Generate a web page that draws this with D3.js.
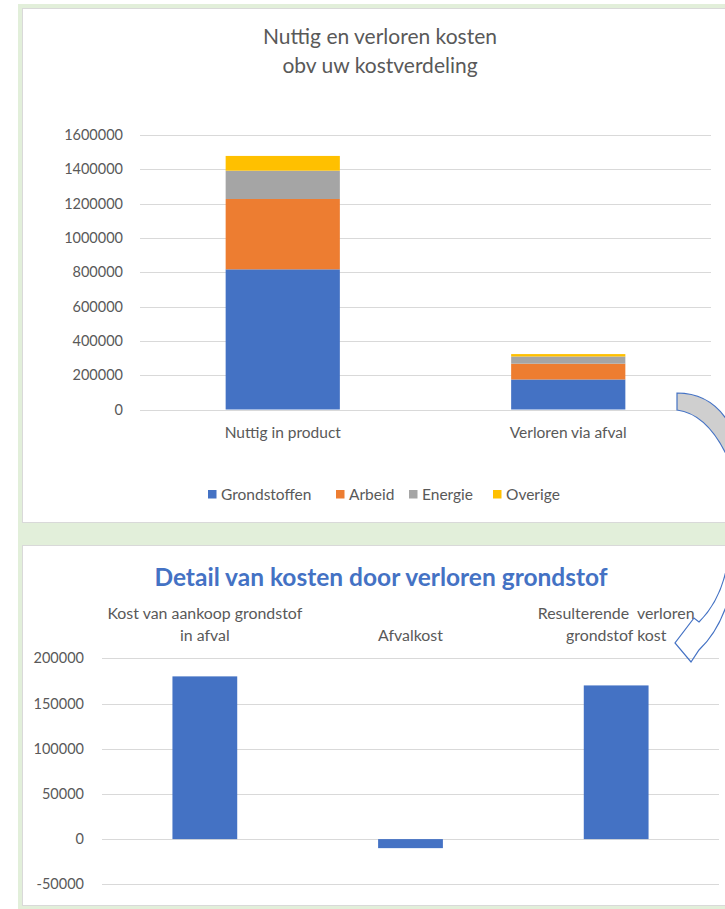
<!DOCTYPE html>
<html>
<head>
<meta charset="utf-8">
<script src="https://cdn.jsdelivr.net/npm/d3@7"></script>
<style>
  html, body { margin: 0; padding: 0; background: #fff; }
  svg text { font-family: Lato, "Liberation Sans", sans-serif; }
</style>
</head>
<body>
<svg id="chart" width="725" height="909"></svg>
<script>
// ---- data: top chart (stacked) ----
const categories = ["Nuttig in product", "Verloren via afval"];
const seriesNames = ["Grondstoffen", "Arbeid", "Energie", "Overige"];
const grondstoffen = [817000, 175000];
const arbeid = [410000, 92000];
const energie = [165000, 42000];
const overige = [86000, 14000];
const topTicks = [0, 200000, 400000, 600000, 800000, 1000000, 1200000, 1400000, 1600000];

// ---- data: bottom chart ----
const detailCategories = [["Kost van aankoop grondstof", "in afval"], ["Afvalkost"], ["Resulterende  verloren", "grondstof kost"]];
const detailValues = [180000, -10000, 170000];
const detailTicks = [-50000, 0, 50000, 100000, 150000, 200000];

const colors = ["#4472C4", "#ED7D31", "#A5A5A5", "#FFC000"];
const textCol = "#595959";
const gridCol = "#d9d9d9";

const svg = d3.select("#chart");

// background + panels
svg.append("rect").attr("x", 18).attr("y", 4).attr("width", 720).attr("height", 910).attr("fill", "#e2efda");
svg.append("rect").attr("x", 22.5).attr("y", 8.5).attr("width", 720).attr("height", 514)
  .attr("fill", "#fff").attr("stroke", gridCol);
svg.append("rect").attr("x", 22.5).attr("y", 545.5).attr("width", 720).attr("height", 360)
  .attr("fill", "#fff").attr("stroke", gridCol);

// -----------------------------
//  TOP CHART
// -----------------------------
const topChart = svg.append("g");

topChart.append("text").attr("x", 380).attr("y", 44).attr("text-anchor", "middle")
  .attr("font-size", 21).attr("fill", textCol).text("Nuttig en verloren kosten");
topChart.append("text").attr("x", 380).attr("y", 73).attr("text-anchor", "middle")
  .attr("font-size", 21).attr("fill", textCol).text("obv uw kostverdeling");

const x1 = d3.scaleBand().domain(categories).range([140, 711]);
const y1 = d3.scaleLinear().domain([0, 1600000]).range([409.5, 135]);

topChart.append("g").selectAll("line").data(topTicks).join("line")
  .attr("x1", 140).attr("x2", 711)
  .attr("y1", d => Math.round(y1(d)) + 0.5).attr("y2", d => Math.round(y1(d)) + 0.5)
  .attr("stroke", gridCol);

topChart.append("g").selectAll("text").data(topTicks).join("text")
  .attr("x", 123).attr("y", d => y1(d)).attr("dy", "0.35em")
  .attr("text-anchor", "end").attr("font-size", 14.5).attr("fill", textCol)
  .text(d => d);

const rows = categories.map((c, i) => ({
  cat: c, Grondstoffen: grondstoffen[i], Arbeid: arbeid[i], Energie: energie[i], Overige: overige[i]
}));
const stacked = d3.stack().keys(seriesNames)(rows);
const barW1 = x1.bandwidth() / 2.5;

topChart.append("g").selectAll("g").data(stacked).join("g")
  .attr("fill", (d, i) => colors[i])
  .selectAll("rect").data(d => d).join("rect")
  .attr("x", d => x1(d.data.cat) + (x1.bandwidth() - barW1) / 2)
  .attr("width", barW1)
  .attr("y", d => y1(d[1]))
  .attr("height", d => y1(d[0]) - y1(d[1]));

topChart.append("g").selectAll("text").data(categories).join("text")
  .attr("x", d => x1(d) + x1.bandwidth() / 2).attr("y", 438)
  .attr("text-anchor", "middle").attr("font-size", 15.5).attr("fill", textCol)
  .text(d => d);

// legend
const legendX = [208, 336, 409, 493];
const legend = topChart.append("g").selectAll("g").data(seriesNames).join("g")
  .attr("transform", (d, i) => `translate(${legendX[i]},490)`);
legend.append("rect").attr("width", 8.5).attr("height", 8.5).attr("fill", (d, i) => colors[i]);
legend.append("text").attr("x", 13).attr("y", 9.5).attr("font-size", 15.5).attr("fill", textCol).text(d => d);

// -----------------------------
//  BOTTOM CHART
// -----------------------------
const botChart = svg.append("g");

botChart.append("text").attr("x", 381).attr("y", 586).attr("text-anchor", "middle")
  .attr("font-size", 24.5).attr("font-weight", "bold").attr("fill", "#4472C4")
  .text("Detail van kosten door verloren grondstof");

const x2 = d3.scaleBand().domain(d3.range(detailValues.length)).range([102, 719]);
const y2 = d3.scaleLinear().domain([-50000, 200000]).range([884.3, 658.3]);

botChart.append("g").selectAll("line").data(detailTicks).join("line")
  .attr("x1", 102).attr("x2", 719)
  .attr("y1", d => Math.round(y2(d)) + 0.5).attr("y2", d => Math.round(y2(d)) + 0.5)
  .attr("stroke", gridCol);

botChart.append("g").selectAll("text").data(detailTicks).join("text")
  .attr("x", 84).attr("y", d => y2(d)).attr("dy", "0.35em")
  .attr("text-anchor", "end").attr("font-size", 14.5).attr("fill", textCol)
  .text(d => d);

const barW2 = x2.bandwidth() * 0.315;
botChart.append("g").selectAll("rect").data(detailValues).join("rect")
  .attr("x", (d, i) => x2(i) + (x2.bandwidth() - barW2) / 2)
  .attr("width", barW2)
  .attr("y", d => y2(Math.max(0, d)))
  .attr("height", d => Math.abs(y2(d) - y2(0)))
  .attr("fill", "#4472C4");

// category labels sit at the top of the plot
detailCategories.forEach((lines, i) => {
  const t = botChart.append("text")
    .attr("text-anchor", "middle").attr("font-size", 15.9).attr("fill", textCol)
    .style("white-space", "pre");
  const padded = lines.length === 1 ? ["", lines[0]] : lines;
  padded.forEach((ln, j) => {
    t.append("tspan").attr("x", x2(i) + x2.bandwidth() / 2).attr("y", 619 + j * 22).text(ln);
  });
});

// curved arrow linking the two charts
const arrow = svg.append("g").attr("stroke", "#4472C4").attr("stroke-width", 1.2);
arrow.append("path")
  .attr("d", "M677,393 C697,393 715,402 727,420 L727,456 C716,433 700,413 677,410 Z")
  .attr("fill", "#cfcfcf");
arrow.append("path")
  .attr("d", "M727,566 C722,592 711,610 699,622 L694,618 L675,643 L691,662 L699,650 C714,636 724,616 730,594 Z")
  .attr("fill", "none");
</script>
</body>
</html>
